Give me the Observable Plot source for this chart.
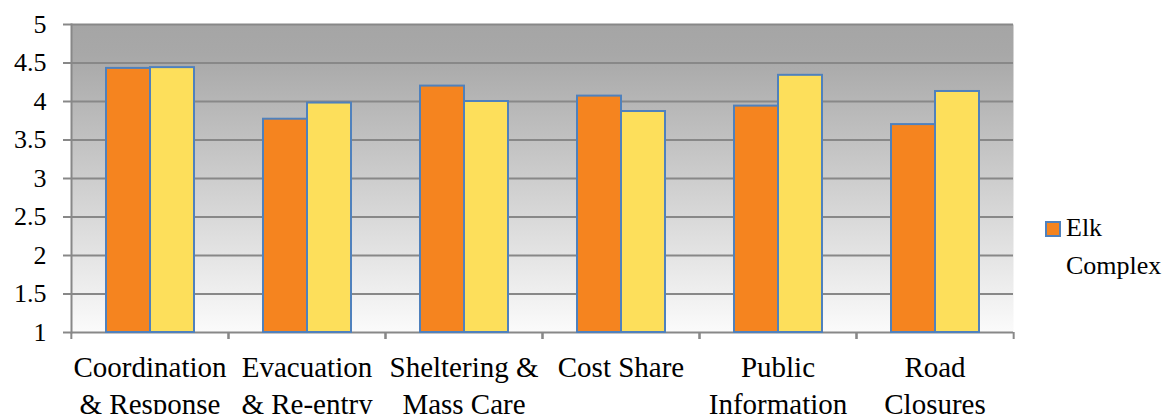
<!DOCTYPE html>
<html>
<head>
<meta charset="utf-8">
<script src="https://cdn.jsdelivr.net/npm/d3@7"></script>
<script src="https://cdn.jsdelivr.net/npm/@observablehq/plot@0.6"></script>
<style>
  html, body { margin: 0; padding: 0; background: #ffffff; }
  #wrap { position: relative; width: 1165px; height: 414px; overflow: hidden; font-family: "Liberation Serif", "Times New Roman", serif; }
  #chart svg, #chart svg text { font-family: "Liberation Serif", "Times New Roman", serif; }
  #legend { position: absolute; left: 1045px; top: 209px; display: flex; align-items: flex-start; font-size: 26px; line-height: 38px; color: #000; }
  #legend .sw { width: 12px; height: 12px; background: #f5841f; border: 2px solid #4f81bd; margin-top: 12px; margin-right: 5px; flex: none; }
  #legend .lbl { width: 98px; }
</style>
</head>
<body>
<div id="wrap"><div id="chart"></div><div id="legend"></div></div>
<script>
// ---- data ----
const categories = ["Coordination & Response", "Evacuation & Re-entry", "Sheltering & Mass Care", "Cost Share", "Public Information", "Road Closures"];
const tickLabels = ["Coordination\n& Response", "Evacuation\n& Re-entry", "Sheltering &\nMass Care", "Cost Share", "Public\nInformation", "Road\nClosures"];
const seriesNames = ["Elk Complex", "Series 2"];
const elkValues = [4.43, 3.77, 4.20, 4.07, 3.94, 3.70];
const series2Values = [4.44, 3.98, 4.00, 3.87, 4.34, 4.13];
const yTicks = [1, 1.5, 2, 2.5, 3, 3.5, 4, 4.5, 5];
const yTickLabels = ["1", "1.5", "2", "2.5", "3", "3.5", "4", "4.5", "5"];
const yDomain = [1, 5];
const seriesColors = ["#f5841f", "#fddf5b"];

// ---- table ----
const rows = categories.flatMap((c, i) => [
  {category: c, series: seriesNames[0], value: elkValues[i]},
  {category: c, series: seriesNames[1], value: series2Values[i]}
]);
const labelOf = new Map(categories.map((c, i) => [c, tickLabels[i]]));
const yLabelOf = new Map(yTicks.map((t, i) => [t, yTickLabels[i]]));

const W = 1165, H = 414, mL = 70, mR = 151, mT = 24, mB = 82;
const step = (W - mL - mR) / categories.length;
const gridColor = "#888888";

const chart = Plot.plot({
  width: W, height: H,
  marginLeft: mL, marginRight: mR, marginTop: mT, marginBottom: mB,
  style: "font-family: 'Liberation Serif', 'Times New Roman', serif; color: #000; background: transparent; overflow: visible;",
  fx: {domain: categories, padding: 0, label: null},
  x: {domain: seriesNames, paddingInner: 0, paddingOuter: 0.748, axis: null},
  y: {domain: yDomain, label: null},
  color: {domain: seriesNames, range: seriesColors},
  marks: [
    Plot.frame({fill: "url(#bgGrad)", stroke: "none", facet: "super"}),
    Plot.ruleY(yTicks, {stroke: gridColor, strokeWidth: 2}),
    Plot.frame({anchor: "left", stroke: gridColor, strokeWidth: 2, facet: "super"}),
    Plot.barY(rows, {fx: "category", x: "series", y1: () => yDomain[0], y2: "value", fill: "series", stroke: "#4f81bd", strokeWidth: 2}),
    Plot.axisY({ticks: yTicks, tickSize: 8, tickPadding: 17, fontSize: 26, stroke: gridColor, strokeWidth: 2, tickFormat: d => yLabelOf.get(d), label: null}),
    Plot.axisFx({anchor: "bottom", tickSize: 0, tickPadding: 18, fontSize: 29, lineHeight: 1.28, tickFormat: d => labelOf.get(d), label: null}),
    Plot.axisFx({anchor: "bottom", tickSize: 7, dx: -step / 2, tickFormat: () => "", stroke: gridColor, strokeWidth: 2, label: null}),
    Plot.axisFx({anchor: "bottom", tickSize: 7, dx: step / 2, tickFormat: () => "", stroke: gridColor, strokeWidth: 2, label: null})
  ]
});

const defs = d3.select(chart).insert("defs", ":first-child");
const grad = defs.append("linearGradient").attr("id", "bgGrad").attr("x1", 0).attr("y1", 0).attr("x2", 0).attr("y2", 1);
grad.append("stop").attr("offset", "0%").attr("stop-color", "#a5a5a5");
grad.append("stop").attr("offset", "10%").attr("stop-color", "#a8a8a8");
grad.append("stop").attr("offset", "100%").attr("stop-color", "#fbfbfb");

document.getElementById("chart").appendChild(chart);

const legend = document.getElementById("legend");
legend.innerHTML = `<div class="sw"></div><div class="lbl">${seriesNames[0].replace(" ", "<br>")}</div>`;
</script>
</body>
</html>
